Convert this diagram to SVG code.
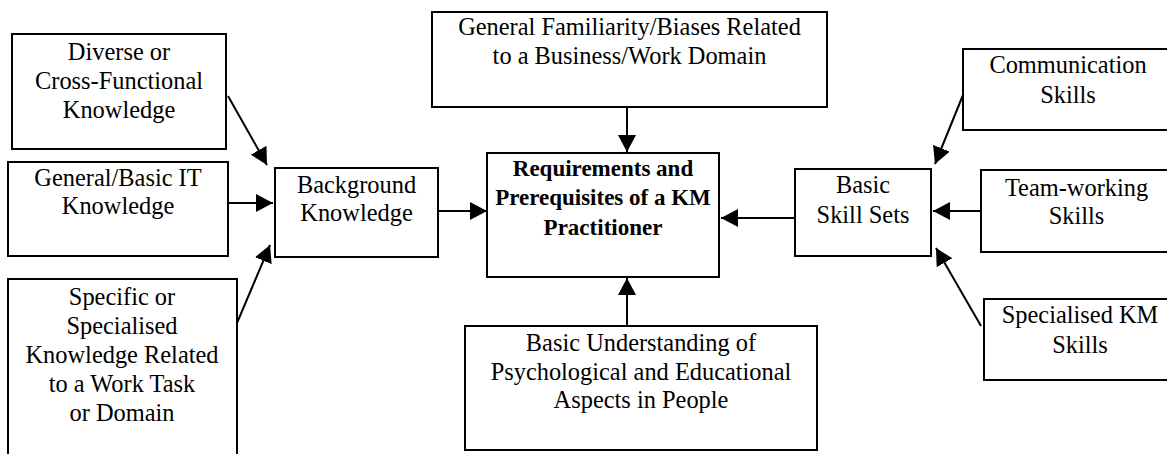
<svg xmlns="http://www.w3.org/2000/svg" width="1167" height="454" viewBox="0 0 1167 454">
<style>
.box{fill:#fff;stroke:#000;stroke-width:2}
.t{font-family:"Liberation Serif","Times New Roman",serif;font-size:24.4px;fill:#000;text-anchor:middle}
.b{font-weight:bold;font-size:23px}
.c{stroke:#000;stroke-width:2;fill:none;marker-end:url(#ah)}
</style>
<defs>
<marker id="ah" markerUnits="userSpaceOnUse" markerWidth="18" markerHeight="18" refX="17" refY="9" orient="auto" viewBox="0 0 18 18">
<path d="M0,0 L17,9 L0,18 Z" fill="#000"/>
</marker>
</defs>
<rect width="1167" height="454" fill="#fff"/>
<g id="connectors">
<path class="c" d="M228,96 L267,165"/>
<path class="c" d="M228,203 L273,203"/>
<path class="c" d="M237,323 L270,245"/>
<path class="c" d="M438,211 L487,211"/>
<path class="c" d="M627,107 L627,152"/>
<path class="c" d="M627,326 L627,278"/>
<path class="c" d="M795,218 L721,218"/>
<path class="c" d="M963,95 L935,164"/>
<path class="c" d="M981,211 L933,211"/>
<path class="c" d="M981,326 L936,248"/>
</g>
<g id="diverse">
<rect class="box" x="12" y="34" width="214" height="115"/>
<text class="t" x="119" y="60">Diverse or</text>
<text class="t" x="119" y="89">Cross-Functional</text>
<text class="t" x="119" y="118">Knowledge</text>
</g>
<g id="general-it">
<rect class="box" x="8" y="162" width="220" height="94"/>
<text class="t" x="118" y="186">General/Basic IT</text>
<text class="t" x="118" y="214">Knowledge</text>
</g>
<g id="specific">
<rect class="box" x="8" y="279" width="229" height="185"/>
<text class="t" x="122" y="305">Specific or</text>
<text class="t" x="122" y="334">Specialised</text>
<text class="t" x="122" y="363">Knowledge Related</text>
<text class="t" x="122" y="392">to a Work Task</text>
<text class="t" x="122" y="421">or Domain</text>
</g>
<g id="background">
<rect class="box" x="275" y="168" width="163" height="89"/>
<text class="t" x="356.5" y="193">Background</text>
<text class="t" x="356.5" y="221">Knowledge</text>
</g>
<g id="center">
<rect class="box" x="487" y="153" width="232" height="124"/>
<text class="t b" x="603" y="176">Requirements and</text>
<text class="t b" x="603" y="205">Prerequisites of a KM</text>
<text class="t b" x="603" y="235">Practitioner</text>
</g>
<g id="familiarity">
<rect class="box" x="432" y="12" width="395" height="95"/>
<text class="t" x="629.5" y="35">General Familiarity/Biases Related</text>
<text class="t" x="629.5" y="64">to a Business/Work Domain</text>
</g>
<g id="understanding">
<rect class="box" x="465" y="326" width="352" height="124"/>
<text class="t" x="641" y="351">Basic Understanding of</text>
<text class="t" x="641" y="380">Psychological and Educational</text>
<text class="t" x="641" y="408">Aspects in People</text>
</g>
<g id="skillsets">
<rect class="box" x="795" y="169" width="136" height="87"/>
<text class="t" x="863" y="193">Basic</text>
<text class="t" x="863" y="223">Skill Sets</text>
</g>
<g id="communication">
<rect class="box" x="963" y="49" width="212" height="81"/>
<text class="t" x="1068" y="73">Communication</text>
<text class="t" x="1068" y="103">Skills</text>
</g>
<g id="teamwork">
<rect class="box" x="981" y="170" width="194" height="82"/>
<text class="t" x="1076.5" y="196">Team-working</text>
<text class="t" x="1076.5" y="224">Skills</text>
</g>
<g id="specialised">
<rect class="box" x="984" y="299" width="194" height="81"/>
<text class="t" x="1080" y="323">Specialised KM</text>
<text class="t" x="1080" y="353">Skills</text>
</g>
</svg>
